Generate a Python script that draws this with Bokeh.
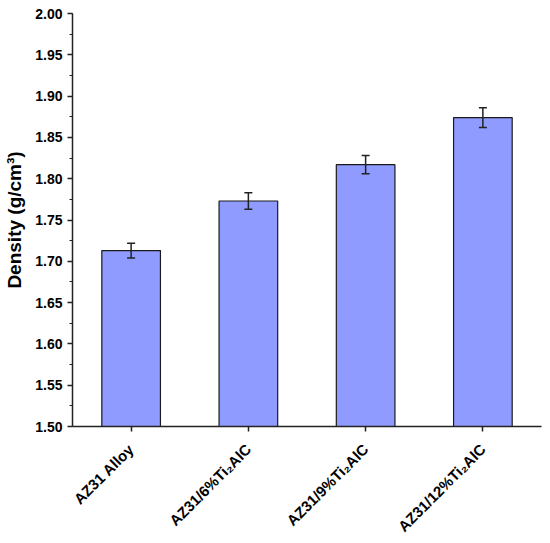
import math
from bokeh.plotting import figure
from bokeh.models import ColumnDataSource, Whisker, SingleIntervalTicker, NumeralTickFormatter, FactorRange, Range1d
from bokeh.embed import file_html
from bokeh.resources import INLINE

categories = ["AZ31 Alloy", "AZ31/6%Ti\u2082AlC", "AZ31/9%Ti\u2082AlC", "AZ31/12%Ti\u2082AlC"]
density = [1.713, 1.773, 1.817, 1.874]
errors = [0.009, 0.010, 0.011, 0.012]

src = ColumnDataSource(dict(
    x=categories, top=density,
    upper=[d + e for d, e in zip(density, errors)],
    lower=[d - e for d, e in zip(density, errors)],
))

p = figure(x_range=FactorRange(*categories, range_padding=0), y_range=Range1d(1.5, 2.0),
           width=542, height=543, output_backend="svg", toolbar_location=None,
           min_border_left=72, min_border_right=1, min_border_top=13, min_border_bottom=116)
p.vbar(x="x", top="top", bottom=1.5, width=0.5, source=src,
       fill_color="#8f9bff", line_color="#1a1a1a", line_width=1.2)
w = Whisker(base="x", upper="upper", lower="lower", source=src,
            line_color="#222222", line_width=1.5, level="annotation")
w.upper_head.size = 8
w.lower_head.size = 8
w.upper_head.line_width = 1.5
w.lower_head.line_width = 1.5
w.upper_head.line_color = "#222222"
w.lower_head.line_color = "#222222"
p.add_layout(w)

p.grid.visible = False
p.outline_line_color = None

p.yaxis.ticker = SingleIntervalTicker(interval=0.05, num_minor_ticks=2)
p.yaxis.formatter = NumeralTickFormatter(format="0.00")
p.yaxis.axis_label = "Density (g/cm\u00b3)"
p.yaxis.axis_label_text_font = "Liberation Sans"
p.yaxis.axis_label_text_font_style = "bold"
p.yaxis.axis_label_text_font_size = "19px"
p.yaxis.axis_label_text_color = "black"
p.yaxis.axis_label_standoff = 7

for ax in (p.xaxis, p.yaxis):
    ax.major_label_text_font = "Liberation Sans"
    ax.major_label_text_font_style = "bold"
    ax.major_label_text_font_size = "14px"
    ax.major_label_text_color = "black"
    ax.axis_line_color = "#222222"
    ax.axis_line_width = 1.5
    ax.major_tick_line_color = "#222222"
    ax.major_tick_line_width = 1.5
    ax.major_tick_out = 5
    ax.major_tick_in = 0
    ax.minor_tick_out = 3
    ax.minor_tick_in = 0
    ax.minor_tick_line_color = "#222222"

p.yaxis.major_label_standoff = 5
p.xaxis.major_label_text_font_size = "15px"
p.xaxis.major_label_orientation = math.pi / 4
p.xaxis.major_label_standoff = 15

open("out.html", "w").write(file_html(p, INLINE))
